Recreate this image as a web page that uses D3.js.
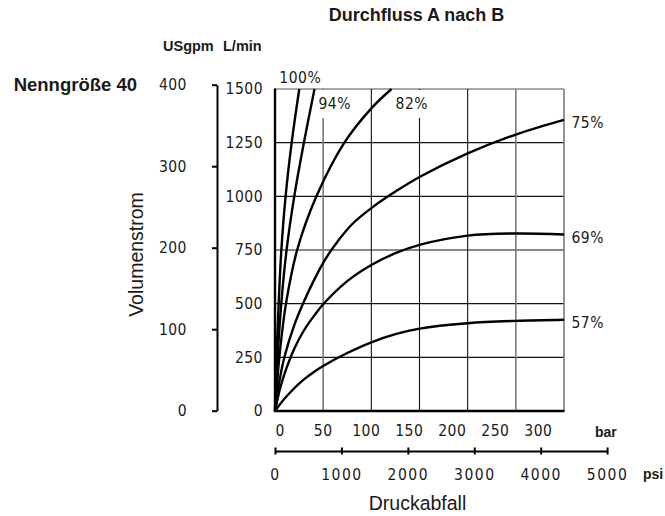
<!DOCTYPE html>
<html>
<head>
<meta charset="utf-8">
<script src="https://cdn.jsdelivr.net/npm/d3@7"></script>
<style>
  html, body { margin: 0; padding: 0; background: #fff; }
  svg { display: block; }
  text { font-family: "Liberation Sans", Arial, Helvetica, sans-serif; fill: #1a1a1a; }
  .num text, text.num { font-family: "Liberation Sans Narrow", "Arial Narrow", "DejaVu Sans Condensed", sans-serif; }
</style>
</head>
<body>
<div id="chart"></div>
<script>
// ---------- data ----------
const titleText = "Durchfluss A nach B";
const sizeText = "Nenngröße 40";
const yTitle = "Volumenstrom";
const xTitle = "Druckabfall";

const flowTicksLmin = [0, 250, 500, 750, 1000, 1250, 1500];
const flowTicksGpm = [0, 100, 200, 300, 400];
const barTicks = [0, 50, 100, 150, 200, 250, 300];
const psiTicks = [0, 1000, 2000, 3000, 4000, 5000];

const curveNames = ["100%", "94%", "82%", "75%", "69%", "57%"];

const bar100 = [0, 1.5, 3.8, 6.6, 11, 17.3, 25.2];
const flow100 = [0, 250, 500, 750, 1000, 1250, 1500];

const bar94 = [0, 2.7, 6.5, 12, 20, 30, 41];
const flow94 = [0, 250, 500, 750, 1000, 1250, 1500];

const bar82 = [0, 4.5, 11.4, 23, 43, 72, 100, 121];
const flow82 = [0, 250, 500, 750, 1000, 1250, 1410, 1500];

const bar75 = [0, 5, 10, 20, 29, 40, 50, 57, 65, 80, 100, 125, 150, 200, 250, 300];
const flow75 = [0, 150, 255, 400, 500, 605, 690, 740, 790, 870, 945, 1022, 1090, 1200, 1288, 1356];

const bar69 = [0, 5, 10, 20, 30, 40, 50, 75, 100, 125, 150, 200, 250, 300];
const flow69 = [0, 100, 175, 290, 375, 440, 497, 605, 680, 735, 774, 817, 827, 822];

const bar57 = [0, 10, 20, 30, 40, 50, 75, 100, 125, 150, 200, 250, 300];
const flow57 = [0, 58, 106, 147, 181, 210, 270, 320, 358, 384, 409, 420, 425];

const BAR_PER_PSI = 1 / 14.5038;

// ---------- drawing ----------
const W = 665, H = 516;
const svg = d3.select("#chart").append("svg").attr("width", W).attr("height", H);

const x = d3.scaleLinear().domain([0, 300]).range([275, 564]);
const yL = d3.scaleLinear().domain([0, 1500]).range([411, 89]);
const yG = d3.scaleLinear().domain([0, 400]).range([410.7, 84.7]);
// bar tick labels in the original sit slightly off the grid
const xLab = d3.scaleLinear().domain([0, 300]).range([279.6, 537.9]);
const xPsi = d3.scaleLinear().domain([0, 5000]).range([x(0), x(5000 * BAR_PER_PSI)]);

const series = [
  {name: curveNames[0], bar: bar100, flow: flow100},
  {name: curveNames[1], bar: bar94, flow: flow94},
  {name: curveNames[2], bar: bar82, flow: flow82},
  {name: curveNames[3], bar: bar75, flow: flow75},
  {name: curveNames[4], bar: bar69, flow: flow69},
  {name: curveNames[5], bar: bar57, flow: flow57}
].map(s => ({name: s.name, pts: s.bar.map((b, i) => [b, s.flow[i]])}));

const gridShade = v => ([50, 250, 300].includes(v) ? "#7a7a7a" : "#111");
const NUM = 15.5;

// horizontal grid
const plot = svg.append("g");
plot.selectAll("line.h").data(flowTicksLmin.filter(v => v > 0)).join("line")
  .attr("x1", x(0)).attr("x2", x(300))
  .attr("y1", d => yL(d)).attr("y2", d => yL(d))
  .attr("stroke", d => d === 1500 ? "#555" : "#111").attr("stroke-width", 1.1);
// vertical grid
plot.selectAll("line.v").data(barTicks.filter(v => v > 0)).join("line")
  .attr("x1", d => x(d)).attr("x2", d => x(d))
  .attr("y1", yL(1500)).attr("y2", yL(0))
  .attr("stroke", d => gridShade(d)).attr("stroke-width", d => gridShade(d) === "#111" ? 1.1 : 1.6);

const line = d3.line().x(d => x(d[0])).y(d => yL(d[1])).curve(d3.curveCatmullRom.alpha(0.5));

// label positions derived from curve ends
series.forEach(s => {
  const end = s.pts[s.pts.length - 1];
  const ex = x(end[0]), ey = yL(end[1]);
  let tx, ty, anchor;
  if (end[1] >= 1500) {
    if (s.name === "100%") { tx = ex + 1; ty = ey - 6; anchor = "middle"; }
    else { tx = ex + 4; ty = ey + 20; anchor = "start"; }
  } else { tx = ex + 7.5; ty = ey + 8; anchor = "start"; }
  s.label = {tx, ty, anchor};
});

// white backgrounds behind inner labels (interrupt grid)
series.filter(s => s.label.anchor === "start" && s.label.ty < 120).forEach(s => {
  plot.append("rect").attr("x", s.label.tx - 2).attr("y", yL(1500) + 1)
    .attr("width", 32).attr("height", 117 - yL(1500)).attr("fill", "#fff");
});

svg.append("g").selectAll("path").data(series).join("path")
  .attr("d", d => line(d.pts)).attr("fill", "none")
  .attr("stroke", "#000").attr("stroke-width", 2.4).attr("stroke-linejoin", "round");

svg.append("g").attr("class", "num").attr("font-size", NUM).attr("letter-spacing", 0.5)
  .selectAll("text").data(series).join("text")
  .attr("x", d => d.label.tx).attr("y", d => d.label.ty)
  .attr("text-anchor", d => d.label.anchor).text(d => d.name);

// frame left & bottom
svg.append("line").attr("x1", x(0)).attr("x2", x(0)).attr("y1", yL(1500) - 0.5).attr("y2", yL(0) + 1)
  .attr("stroke", "#000").attr("stroke-width", 2.4);
svg.append("line").attr("x1", x(0) - 1).attr("x2", x(300) + 0.5).attr("y1", yL(0)).attr("y2", yL(0))
  .attr("stroke", "#000").attr("stroke-width", 2.4);

function styleAxis(g) {
  g.attr("font-family", null).attr("font-size", NUM).attr("class", "num").attr("letter-spacing", 0.5);
  g.selectAll("text").attr("fill", "#1a1a1a");
}

// L/min axis (labels only)
svg.append("g").attr("transform", `translate(${x(0)},0)`)
  .call(d3.axisLeft(yL).tickValues(flowTicksLmin).tickSize(0).tickPadding(12).tickFormat(d3.format("d")))
  .call(g => g.select(".domain").remove())
  .call(styleAxis);

// USgpm axis
svg.append("g").attr("transform", "translate(217,0)")
  .call(d3.axisLeft(yG).tickValues(flowTicksGpm).tickSizeInner(5).tickSizeOuter(0).tickPadding(25).tickFormat(d3.format("d")))
  .call(g => g.select(".domain").attr("stroke", "#000").attr("stroke-width", 2))
  .call(g => g.selectAll(".tick line").attr("stroke", "#000").attr("stroke-width", 2))
  .call(styleAxis);

// bar axis (labels only)
svg.append("g").attr("transform", `translate(0,${yL(0)})`)
  .call(d3.axisBottom(xLab).tickValues(barTicks).tickSize(0).tickPadding(14).tickFormat(d3.format("d")))
  .call(g => g.select(".domain").remove())
  .call(styleAxis);

// psi axis
svg.append("g").attr("transform", "translate(0,451)")
  .call(d3.axisBottom(xPsi).tickValues(psiTicks).tickSizeInner(3.5).tickSizeOuter(0).tickPadding(14).tickFormat(d3.format("d")))
  .call(g => g.select(".domain").attr("stroke", "#000").attr("stroke-width", 1.8))
  .call(g => g.selectAll(".tick line").attr("y1", -3.5).attr("y2", 3.5).attr("stroke", "#000").attr("stroke-width", 2))
  .call(styleAxis)
  .call(g => g.attr("letter-spacing", 1.5));

// unit labels
svg.append("text").attr("x", 595).attr("y", 436.7).attr("font-size", 14).attr("font-weight", "bold").text("bar");
svg.append("text").attr("x", 643).attr("y", 479).attr("font-size", 14).attr("font-weight", "bold").text("psi");
svg.append("text").attr("x", 163).attr("y", 51).attr("font-size", 14.5).attr("font-weight", "bold").text("USgpm");
svg.append("text").attr("x", 223).attr("y", 51).attr("font-size", 14.5).attr("font-weight", "bold").text("L/min");

// titles
svg.append("text").attr("x", (x(0) + x(300)) / 2 - 3).attr("y", 20.5).attr("text-anchor", "middle")
  .attr("font-size", 18).attr("font-weight", "bold").text(titleText);
svg.append("text").attr("x", 137).attr("y", 90.5).attr("text-anchor", "end")
  .attr("font-size", 18.5).attr("font-weight", "bold").text(sizeText);
svg.append("text").attr("transform", "translate(142.5,254.5) rotate(-90)").attr("text-anchor", "middle")
  .attr("font-size", 19.5).text(yTitle);
svg.append("text").attr("x", 417.5).attr("y", 509.5).attr("text-anchor", "middle")
  .attr("font-size", 19.5).text(xTitle);
</script>
</body>
</html>
